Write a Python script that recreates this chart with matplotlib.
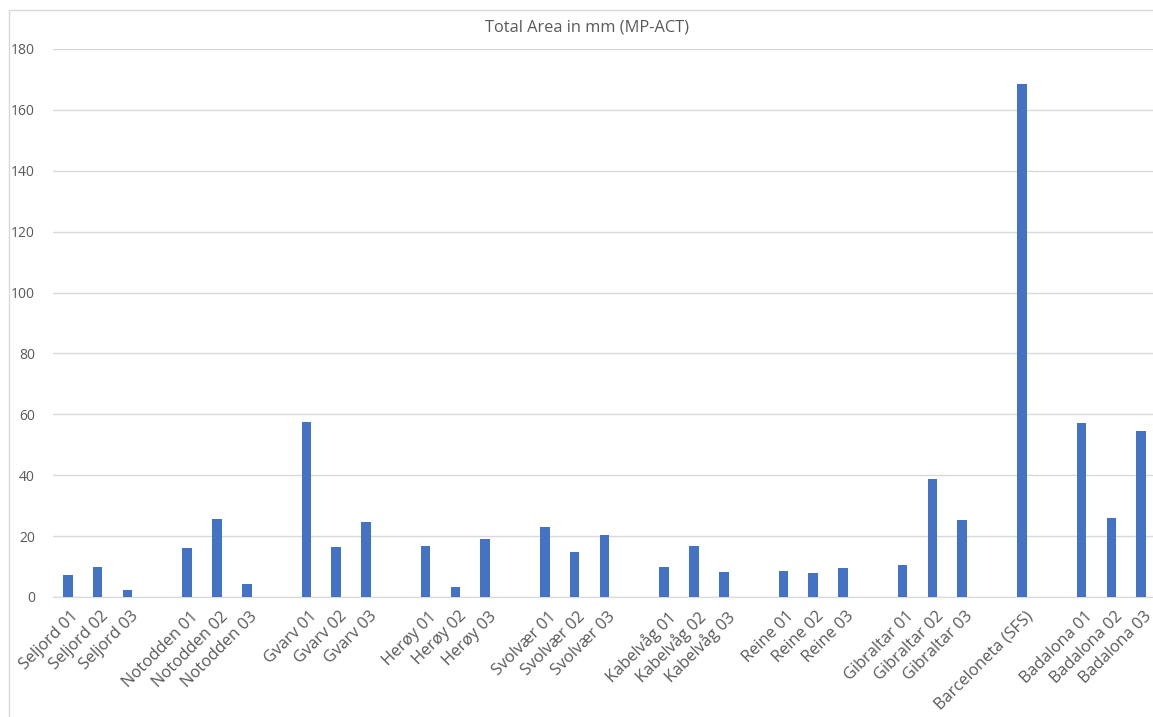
import matplotlib
matplotlib.use("Agg")
import matplotlib.pyplot as plt
import matplotlib.transforms as mtransforms
import numpy as np
from matplotlib.patches import Rectangle

# Empty strings are the blank rows between sites
labels = [
    "Seljord 01", "Seljord 02", "Seljord 03", "",
    "Notodden 01", "Notodden 02", "Notodden 03", "",
    "Gvarv 01", "Gvarv 02", "Gvarv 03", "",
    "Herøy 01", "Herøy 02", "Herøy 03", "",
    "Svolvær 01", "Svolvær 02", "Svolvær 03", "",
    "Kabelvåg 01", "Kabelvåg 02", "Kabelvåg 03", "",
    "Reine 01", "Reine 02", "Reine 03", "",
    "Gibraltar 01", "Gibraltar 02", "Gibraltar 03", "",
    "Barceloneta (SFS)", "",
    "Badalona 01", "Badalona 02", "Badalona 03",
]
values = [
    7.2, 9.9, 2.3, np.nan,
    16.1, 25.6, 4.3, np.nan,
    57.5, 16.4, 24.6, np.nan,
    16.8, 3.3, 19.1, np.nan,
    23.0, 14.8, 20.4, np.nan,
    9.9, 16.8, 8.2, np.nan,
    8.5, 7.9, 9.5, np.nan,
    10.5, 38.8, 25.3, np.nan,
    168.5, np.nan,
    57.2, 26.0, 54.5,
]
yticks = [0, 20, 40, 60, 80, 100, 120, 140, 160, 180]

W, H = 1153, 717
fig = plt.figure(figsize=(W / 100, H / 100), dpi=100)
plt.rcParams["font.family"] = ["Open Sans", "DejaVu Sans"]

# chart border like the Excel chart area
fig.patches.append(Rectangle((9 / W, -0.01), 1.0, 1 - 10 / H + 0.01,
                             transform=fig.transFigure, fill=False,
                             edgecolor="#d9d9d9", lw=1.0))

ax = fig.add_axes([53 / W, 1 - 597 / H, 1103 / W, (597 - 49) / H])
x = np.arange(len(labels))
ax.bar(x, values, width=0.32, color="#4472c4", zorder=3)

ax.set_xlim(-0.5, len(labels) - 0.5)
ax.set_ylim(0, 180)
ax.set_yticks(yticks)
ax.yaxis.grid(True, color="#d9d9d9", lw=1.0, zorder=0)
ax.tick_params(axis="y", length=0, pad=13, labelsize=10, labelcolor="#595959")

ticks = [i for i, l in enumerate(labels) if l]
ax.set_xticks(ticks)
ax.set_xticklabels([labels[i] for i in ticks], rotation=45, ha="right",
                   rotation_mode="anchor", fontsize=11.8, color="#595959")
ax.tick_params(axis="x", length=0, pad=6)
# nudge labels so their top-right corner sits like Excel's
shift = mtransforms.ScaledTranslation(3 / 100, -3 / 100, fig.dpi_scale_trans)
for lab in ax.get_xticklabels():
    lab.set_transform(lab.get_transform() + shift)

for s in ["top", "right", "left"]:
    ax.spines[s].set_visible(False)
ax.spines["bottom"].set_color("#d9d9d9")

fig.text(587 / W, 1 - 27 / H, "Total Area in mm (MP-ACT)", ha="center",
         va="center", fontsize=11.8, color="#595959")

fig.savefig("out.png", dpi=100)
